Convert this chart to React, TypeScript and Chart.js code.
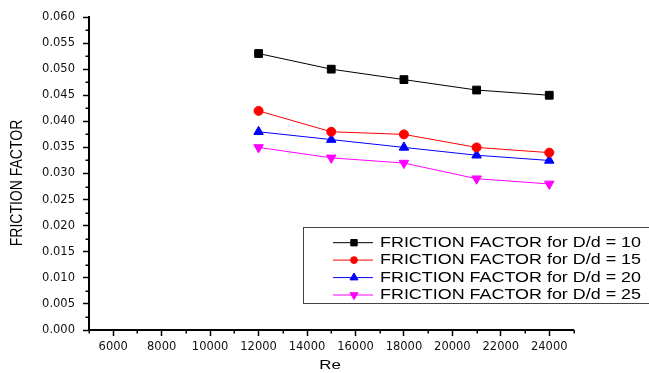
import React, { useEffect, useRef } from 'react';
import { Chart, registerables } from 'chart.js';
import { drawPoint } from 'chart.js/helpers';

Chart.register(...registerables);

const reynolds = [12000, 15000, 18000, 21000, 24000];
const ffD10 = [0.053, 0.05, 0.048, 0.046, 0.045];
const ffD15 = [0.042, 0.038, 0.0375, 0.035, 0.034];
const ffD20 = [0.038, 0.0365, 0.035, 0.0335, 0.0325];
const ffD25 = [0.035, 0.033, 0.032, 0.029, 0.028];
const seriesLabels = [
  'FRICTION FACTOR for D/d = 10',
  'FRICTION FACTOR for D/d = 15',
  'FRICTION FACTOR for D/d = 20',
  'FRICTION FACTOR for D/d = 25',
];
const seriesColors = ['#000000', '#ff0000', '#0000ff', '#ff00ff'];
const seriesStyles = ['rect', 'circle', 'triangle', 'triangle'];
const seriesRotations = [0, 0, 0, 180];
const seriesRadii = [5.5, 4.5, 5.5, 5.5];
const legendRadii = [4.5, 3.4, 4.6, 4.6];
const yAxisTitle = 'FRICTION FACTOR';
const xAxisTitle = 'Re';
const xMin = 5000;
const xMax = 25000;
const xStep = 1000;
const yMin = 0;
const yMax = 0.06;
const yStep = 0.0025;

const isYMajor = (v: number) => Math.abs(v / 0.005 - Math.round(v / 0.005)) < 1e-6;
const isXMajor = (v: number) => v % 2000 === 0 && v >= 6000 && v <= 24000;

const minorTicksPlugin = {
  id: 'minorTicks',
  afterDraw(chart: any) {
    const ctx = chart.ctx;
    ctx.save();
    ctx.strokeStyle = '#000';
    ctx.lineWidth = 1.5;
    const xs = chart.scales.x;
    const ys = chart.scales.y;
    xs.ticks.forEach((t: any) => {
      if (isXMajor(t.value)) return;
      const px = Math.round(xs.getPixelForValue(t.value)) + 0.25;
      ctx.beginPath();
      ctx.moveTo(px, xs.top);
      ctx.lineTo(px, xs.top + 3.5);
      ctx.stroke();
    });
    ys.ticks.forEach((t: any) => {
      if (isYMajor(t.value)) return;
      const py = Math.round(ys.getPixelForValue(t.value)) + 0.25;
      ctx.beginPath();
      ctx.moveTo(ys.right, py);
      ctx.lineTo(ys.right - 3.5, py);
      ctx.stroke();
    });
    ctx.restore();
  },
};

const titlesPlugin = {
  id: 'stretchedTitles',
  afterDraw(chart: any) {
    const ctx = chart.ctx;
    ctx.save();
    ctx.fillStyle = '#000';
    ctx.textAlign = 'center';
    ctx.textBaseline = 'middle';
    ctx.font = '14px "Liberation Sans", Arial, sans-serif';
    ctx.save();
    ctx.translate(17.5, 183);
    ctx.rotate(-Math.PI / 2);
    ctx.scale(1, 1.17);
    ctx.fillText(yAxisTitle, 0, 0);
    ctx.restore();
    ctx.font = '13px "Liberation Sans", Arial, sans-serif';
    ctx.save();
    ctx.translate(330, 365.5);
    ctx.scale(1.3, 1);
    ctx.fillText(xAxisTitle, 0, 0);
    ctx.restore();
    ctx.restore();
  },
};

const boxLegendPlugin = {
  id: 'boxLegend',
  afterDraw(chart: any) {
    const ctx = chart.ctx;
    ctx.save();
    const bx = 303.5;
    const by = 227.5;
    const bw = 360;
    const bh = 76;
    ctx.fillStyle = '#ffffff';
    ctx.fillRect(bx, by, bw, bh);
    ctx.strokeStyle = '#444';
    ctx.lineWidth = 1;
    ctx.strokeRect(bx, by, bw, bh);
    const rows = [242.7, 260.1, 277.6, 295];
    chart.data.datasets.forEach((ds: any, i: number) => {
      const y = rows[i];
      ctx.strokeStyle = ds.borderColor;
      ctx.lineWidth = 1;
      ctx.beginPath();
      ctx.moveTo(333, y);
      ctx.lineTo(373, y);
      ctx.stroke();
      ctx.fillStyle = ds.backgroundColor;
      ctx.strokeStyle = ds.borderColor;
      drawPoint(ctx, {
        pointStyle: ds.pointStyle,
        radius: legendRadii[i],
        rotation: ds.pointRotation,
        borderWidth: 1,
      }, 354, y);
      ctx.save();
      ctx.fillStyle = '#000';
      ctx.font = '14px "Liberation Sans", Arial, sans-serif';
      ctx.textAlign = 'left';
      ctx.textBaseline = 'middle';
      ctx.translate(380, y + 0.5);
      ctx.scale(1.28, 1);
      ctx.fillText(ds.label, 0, 0);
      ctx.restore();
    });
    ctx.restore();
  },
};

export default function App() {
  const canvasRef = useRef<HTMLCanvasElement | null>(null);

  useEffect(() => {
    const canvas = canvasRef.current;
    if (!canvas) return;
    const seriesValues = [ffD10, ffD15, ffD20, ffD25];
    const chart = new Chart(canvas, {
      type: 'line',
      data: {
        datasets: seriesValues.map((vals, i) => ({
          label: seriesLabels[i],
          data: reynolds.map((re, j) => ({ x: re, y: vals[j] })),
          borderColor: seriesColors[i],
          backgroundColor: seriesColors[i],
          borderWidth: 1,
          pointStyle: seriesStyles[i] as any,
          pointRotation: seriesRotations[i],
          pointRadius: seriesRadii[i],
          pointBorderWidth: 1,
          pointBorderColor: seriesColors[i],
          pointBackgroundColor: seriesColors[i],
          tension: 0,
          fill: false,
        })),
      },
      options: {
        animation: false,
        responsive: false,
        devicePixelRatio: 1,
        layout: { padding: { left: 0, top: 17, right: 75.5, bottom: 0 } },
        plugins: {
          legend: { display: false },
          tooltip: { enabled: false },
        },
        scales: {
          x: {
            type: 'linear',
            min: xMin,
            max: xMax,
            afterFit: (scale: any) => {
              scale.height = 43;
            },
            border: { display: true, color: '#000', width: 2 },
            grid: {
              display: true,
              drawOnChartArea: false,
              drawTicks: true,
              tickLength: 6,
              tickWidth: 1.5,
              color: (c: any) => (c.tick && isXMajor(c.tick.value) ? '#000' : 'rgba(0,0,0,0)'),
            },
            ticks: {
              stepSize: xStep,
              autoSkip: false,
              maxRotation: 0,
              minRotation: 0,
              padding: 4,
              color: '#111',
              font: { family: 'DejaVu Sans', size: 11.5 },
              callback: (v: any) => (isXMajor(Number(v)) ? String(v) : ''),
            },
          },
          y: {
            type: 'linear',
            min: yMin,
            max: yMax,
            afterFit: (scale: any) => {
              scale.width = 89;
            },
            border: { display: true, color: '#000', width: 2 },
            grid: {
              display: true,
              drawOnChartArea: false,
              drawTicks: true,
              tickLength: 6,
              tickWidth: 1.5,
              color: (c: any) => (c.tick && isYMajor(c.tick.value) ? '#000' : 'rgba(0,0,0,0)'),
            },
            ticks: {
              stepSize: yStep,
              autoSkip: false,
              padding: 8,
              color: '#111',
              font: { family: 'DejaVu Sans', size: 11.5 },
              callback: (v: any) => (isYMajor(Number(v)) ? Number(v).toFixed(3) : ''),
            },
          },
        },
      },
      plugins: [minorTicksPlugin, titlesPlugin, boxLegendPlugin],
    });
    return () => chart.destroy();
  }, []);

  return (
    <div style={{ position: 'fixed', left: 0, top: 0, width: 649, height: 373, background: '#fff' }}>
      <canvas ref={canvasRef} width={649} height={373} style={{ display: 'block', width: 649, height: 373 }} />
    </div>
  );
}
